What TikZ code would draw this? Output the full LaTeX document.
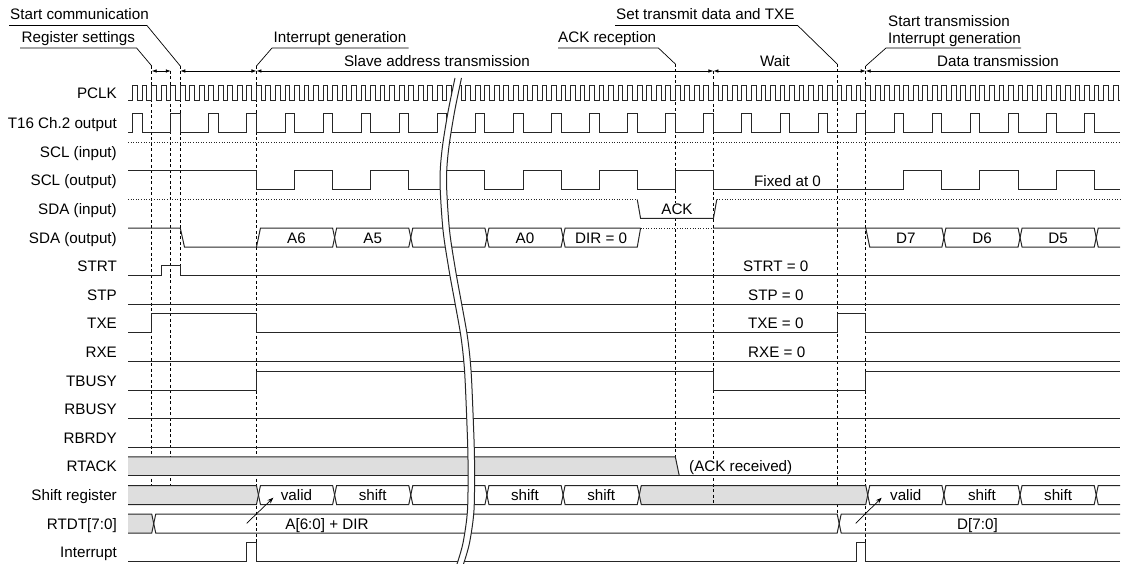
\documentclass[tikz,border=0pt]{standalone}
\usepackage{fontspec}
\setmainfont{Liberation Sans}
\usepackage{tikz}
\usetikzlibrary{arrows.meta}

\tikzset{
  sig/.style={line width=1pt,draw=black!85},
  hiz/.style={line width=0.9pt,draw=black!85,dash pattern=on 1pt off 1.6pt},
  band/.style={fill=black!13},
  guide/.style={line width=0.8pt,dash pattern=on 3pt off 2.5pt},
  lbl/.style={anchor=base east,inner sep=0pt},
  txt/.style={anchor=base,inner sep=0pt},
  note/.style={anchor=base west,inner sep=0pt},
  lead/.style={line width=0.7pt},
  span/.style={line width=0.7pt,{Latex[length=5pt,width=3.6pt]}-{Latex[length=5pt,width=3.6pt]}},
}

\begin{document}
\begin{tikzpicture}[x=1pt,y=-1pt,font=\fontsize{15.2}{18}\selectfont]
  \useasboundingbox (0,0) rectangle (1122,564);

  % row names
  \foreach \nm/\t/\y in {pclk/PCLK/98.5, t16/T16 Ch.2 output/128.7, sclin/SCL (input)/157.3,
      sclout/SCL (output)/185.9, sdain/SDA (input)/214.5, sdaout/SDA (output)/243.1,
      strt/STRT/271.7, stp/STP/300.3, txe/TXE/328.9, rxe/RXE/357.5, tbusy/TBUSY/386.1,
      rbusy/RBUSY/414.7, rbrdy/RBRDY/443.3, rtack/RTACK/471.9, shreg/Shift register/500.5,
      rtdt/RTDT[7:0]/529.1, intr/Interrupt/557.7}
    \node[lbl] (\nm) at (117,\y) {\t};

  % top notes
  \node[note] (stcom) at (10,19.5) {Start communication};
  \node[note] (regset) at (21.5,43) {Register settings};
  \node[note] (intgen) at (273.5,43) {Interrupt generation};
  \node[note] (ackrx) at (558,43) {ACK reception};
  \node[note] (settxe) at (616,19.5) {Set transmit data and TXE};
  \node[note] (sttx) at (888,26.5) {Start transmission};
  \node[note] (intgen2) at (888,44) {Interrupt generation};

  \coordinate (g1) at (151.74,66);
  \coordinate (g2) at (180.3,66);
  \coordinate (g3) at (256.46,66);
  \coordinate (g4) at (675.34,64);
  \coordinate (g5) at (837.18,64);
  \coordinate (g6) at (865.74,66);

  \draw[lead] ([shift={(-1pt,-6pt)}]stcom.base west) -- ([shift={(-2pt,-6pt)}]stcom.base east) -- (g2);
  \draw[lead] ([shift={(-1.5pt,-5pt)}]regset.base west) -- ([shift={(1.5pt,-5pt)}]regset.base east) -- (g1);
  \draw[lead] ([shift={(2pt,-5pt)}]intgen.base east) -- ([shift={(-1.5pt,-5pt)}]intgen.base west) -- (g3);
  \draw[lead] ([shift={(0pt,-5pt)}]ackrx.base west) -- ([shift={(2pt,-5pt)}]ackrx.base east) -- (g4);
  \draw[lead] ([shift={(-1pt,-6pt)}]settxe.base west) -- ([shift={(3pt,-6pt)}]settxe.base east) -- (g5);
  \draw[lead] ([shift={(0pt,-4pt)}]intgen2.base east) -- ([shift={(-2pt,-4pt)}]intgen2.base west) -- (g6);

  % phases
  \draw[span] (151.74,71) -- (170.78,71);
  \draw[span] (180.3,71) -- (256.46,71);
  \draw[span] (256.46,71) -- (713.42,71);
  \draw[span] (713.42,71) -- (865.74,71);
  \draw[line width=0.7pt,{Latex[length=5pt,width=3.6pt]}-] (865.74,71) -- (1120,71);
  \node[txt] (slave) at (437,66.5) {Slave address transmission};
  \node[txt] (wait) at (775,66.5) {Wait};
  \node[txt] (datatx) at (998,66.5) {Data transmission};

  % guide lines
  \draw[guide] (g1) -- (151.74,485.5);
  \draw[guide] (170.78,71) -- (170.78,485.5);
  \draw[guide] (g2) -- (180.3,266);
  \draw[guide] (g3) -- (256.46,542.7);
  \draw[guide] (g4) -- (675.34,456.9);
  \draw[guide] (g5) -- (837.18,514.1);
  \draw[guide] (g6) -- (865.74,542.7);

  % shaded spans
  \fill[band] (128,456.9) -- (675.34,456.9) -- (679.3,475.9) -- (128,475.9) -- cycle;
  \fill[band] (128,485.5) -- (256.46,485.5) -- (258.46,495) -- (256.46,504.5) -- (128,504.5) -- cycle;
  \fill[band] (639.26,495) -- (641.26,485.5) -- (865.74,485.5) -- (867.74,495) -- (865.74,504.5) -- (641.26,504.5) -- cycle;
  \fill[band] (128,514.1) -- (151.74,514.1) -- (153.74,523.6) -- (151.74,533.1) -- (128,533.1) -- cycle;

  \draw[guide] (713.42,71) -- (713.42,504.5);

  % clocks
  \draw[sig] (128,101) \foreach \k in {0,...,103} { -- ({132.7+9.52*\k},101) -- ++(0,-15) -- ++(4.76,0) -- ++(0,15) } -- (1120,101);
  \draw[sig] (128,132.7) \foreach \k in {0,...,25} { -- ({132.7+38.08*\k},132.7) -- ++(0,-19) -- ++(9.52,0) -- ++(0,19) } -- (1120,132.7);

  % SCL
  \draw[hiz] (128,142.3) -- (1120,142.3);
  \draw[sig] (128,170.9) -- (256.46,170.9) -- (256.46,189.9)
    \foreach \k in {17,25,33,41,49,57,81,89,97} { -- ({132.7+9.52*\k},189.9) -- ++(0,-19) -- ++(38.08,0) -- ++(0,19) } -- (1120,189.9);
  \node[note] (fixed) at (754,187) {Fixed at 0};

  % SDA
  \draw[hiz] (128,199.5) -- (637.26,199.5);
  \draw[sig] (637.26,199.5) -- (640.6,218.5) -- (713.42,218.5) -- (716.8,199.5);
  \draw[hiz] (716.8,199.5) -- (1120,199.5);
  \node[txt,fill=white,inner sep=1pt] (ack) at (677,214.5) {ACK};

  \draw[sig] (128,228.1) -- (180.3,228.1) -- (184.5,247.1) -- (332.62,247.1) -- (336.62,228.1) -- (408.78,228.1)
    -- (412.78,247.1) -- (484.94,247.1) -- (488.94,228.1) -- (561.1,228.1) -- (565.1,247.1) -- (637.26,247.1) -- (640.6,228.1);
  \draw[sig] (256.46,247.1) -- (260.46,228.1) -- (332.62,228.1) -- (336.62,247.1) -- (408.78,247.1) -- (412.78,228.1)
    -- (484.94,228.1) -- (488.94,247.1) -- (561.1,247.1) -- (565.1,228.1) -- (640.6,228.1);
  \draw[hiz] (640.6,228.1) -- (713.42,228.1);
  \draw[sig] (713.42,228.1) -- (941.9,228.1) -- (945.9,247.1) -- (1018.06,247.1) -- (1022.06,228.1) -- (1094.22,228.1)
    -- (1098.22,247.1) -- (1120,247.1);
  \draw[sig] (865.74,228.1) -- (869.74,247.1) -- (941.9,247.1) -- (945.9,228.1) -- (1018.06,228.1) -- (1022.06,247.1)
    -- (1094.22,247.1) -- (1098.22,228.1) -- (1120,228.1);
  \foreach \t/\x in {A6/296.5, A5/372.7, A0/525, DIR = 0/601.2, D7/905.8, D6/982, D5/1058.1}
    \node[txt] at (\x,243.1) {\t};

  % flags
  \draw[sig] (128,275.7) -- (161.26,275.7) -- (161.26,266) -- (180.3,266) -- (180.3,275.7) -- (1120,275.7);
  \draw[sig] (128,304.3) -- (1120,304.3);
  \draw[sig] (128,332.9) -- (151.74,332.9) -- (151.74,313.9) -- (256.46,313.9) -- (256.46,332.9)
    -- (837.18,332.9) -- (837.18,313.9) -- (865.74,313.9) -- (865.74,332.9) -- (1120,332.9);
  \draw[sig] (128,361.5) -- (1120,361.5);
  \draw[sig] (128,390.1) -- (256.46,390.1) -- (256.46,371.1) -- (713.42,371.1) -- (713.42,390.1)
    -- (865.74,390.1) -- (865.74,371.1) -- (1120,371.1);
  \draw[sig] (128,418.7) -- (1120,418.7);
  \draw[sig] (128,447.3) -- (1120,447.3);
  \node[note] (strt0) at (743,271.7) {STRT = 0};
  \node[note] (stp0) at (748,300.3) {STP = 0};
  \node[note] (txe0) at (748,328.9) {TXE = 0};
  \node[note] (rxe0) at (748,357.5) {RXE = 0};

  % RTACK
  \node[note,fill=white,inner sep=1pt] (ackok) at (688,471.9) {(ACK received)};
  \draw[sig] (128,456.9) -- (675.34,456.9) -- (679.3,475.9);
  \draw[sig] (128,475.9) -- (1120,475.9);

  % shift register
  \draw[sig] (128,485.5) -- (256.46,485.5) -- (260.46,504.5) -- (332.62,504.5) -- (336.62,485.5) -- (408.78,485.5)
    -- (412.78,504.5) -- (484.94,504.5) -- (488.94,485.5) -- (561.1,485.5) -- (565.1,504.5) -- (637.26,504.5)
    -- (641.26,485.5) -- (865.74,485.5) -- (869.74,504.5) -- (941.9,504.5) -- (945.9,485.5) -- (1018.06,485.5)
    -- (1022.06,504.5) -- (1094.22,504.5) -- (1098.22,485.5) -- (1120,485.5);
  \draw[sig] (128,504.5) -- (256.46,504.5) -- (260.46,485.5) -- (332.62,485.5) -- (336.62,504.5) -- (408.78,504.5)
    -- (412.78,485.5) -- (484.94,485.5) -- (488.94,504.5) -- (561.1,504.5) -- (565.1,485.5) -- (637.26,485.5)
    -- (641.26,504.5) -- (865.74,504.5) -- (869.74,485.5) -- (941.9,485.5) -- (945.9,504.5) -- (1018.06,504.5)
    -- (1022.06,485.5) -- (1094.22,485.5) -- (1098.22,504.5) -- (1120,504.5);
  \foreach \t/\x in {valid/296.5, shift/372.7, shift/525, shift/601.2, valid/905.8, shift/982, shift/1058.1}
    \node[txt] at (\x,500.5) {\t};

  % RTDT
  \draw[sig] (128,514.1) -- (151.74,514.1) -- (155.74,533.1) -- (837.18,533.1) -- (841.18,514.1) -- (1120,514.1);
  \draw[sig] (128,533.1) -- (151.74,533.1) -- (155.74,514.1) -- (837.18,514.1) -- (841.18,533.1) -- (1120,533.1);
  \node[txt] (adir) at (327,529.1) {A[6:0] + DIR};
  \node[txt] (dall) at (977.5,529.1) {D[7:0]};
  \draw[line width=0.7pt,-{Stealth[length=6pt,width=4.5pt]}] (246.7,523.3) -- (273.3,497.7);
  \draw[line width=0.7pt,-{Stealth[length=6pt,width=4.5pt]}] (855.7,523.3) -- (881.7,497.7);

  % interrupt
  \draw[sig] (128,561.7) -- (246.94,561.7) -- (246.94,542.7) -- (256.46,542.7) -- (256.46,561.7)
    -- (856.22,561.7) -- (856.22,542.7) -- (865.74,542.7) -- (865.74,561.7) -- (1120,561.7);

  % time break
  \fill[white] plot[smooth] coordinates {(455,78) (448,112) (442,150) (440,182) (443,230) (449,270) (455,303)
      (461,337) (464.5,370) (466.7,418) (468,460) (467.5,510) (463,543) (457,564)}
    -- plot[smooth] coordinates {(463.5,564) (469.5,543) (474,510) (474.5,460) (473.2,418) (471,370) (467.5,337)
      (461.5,303) (455.5,270) (449.5,230) (446.5,182) (448.5,150) (454.5,112) (461.5,78)} -- cycle;
  \draw[sig] plot[smooth] coordinates {(455,78) (448,112) (442,150) (440,182) (443,230) (449,270) (455,303)
      (461,337) (464.5,370) (466.7,418) (468,460) (467.5,510) (463,543) (457,564)};
  \draw[sig] plot[smooth] coordinates {(461.5,78) (454.5,112) (448.5,150) (446.5,182) (449.5,230) (455.5,270)
      (461.5,303) (467.5,337) (471,370) (473.2,418) (474.5,460) (474,510) (469.5,543) (463.5,564)};
\end{tikzpicture}
\end{document}
